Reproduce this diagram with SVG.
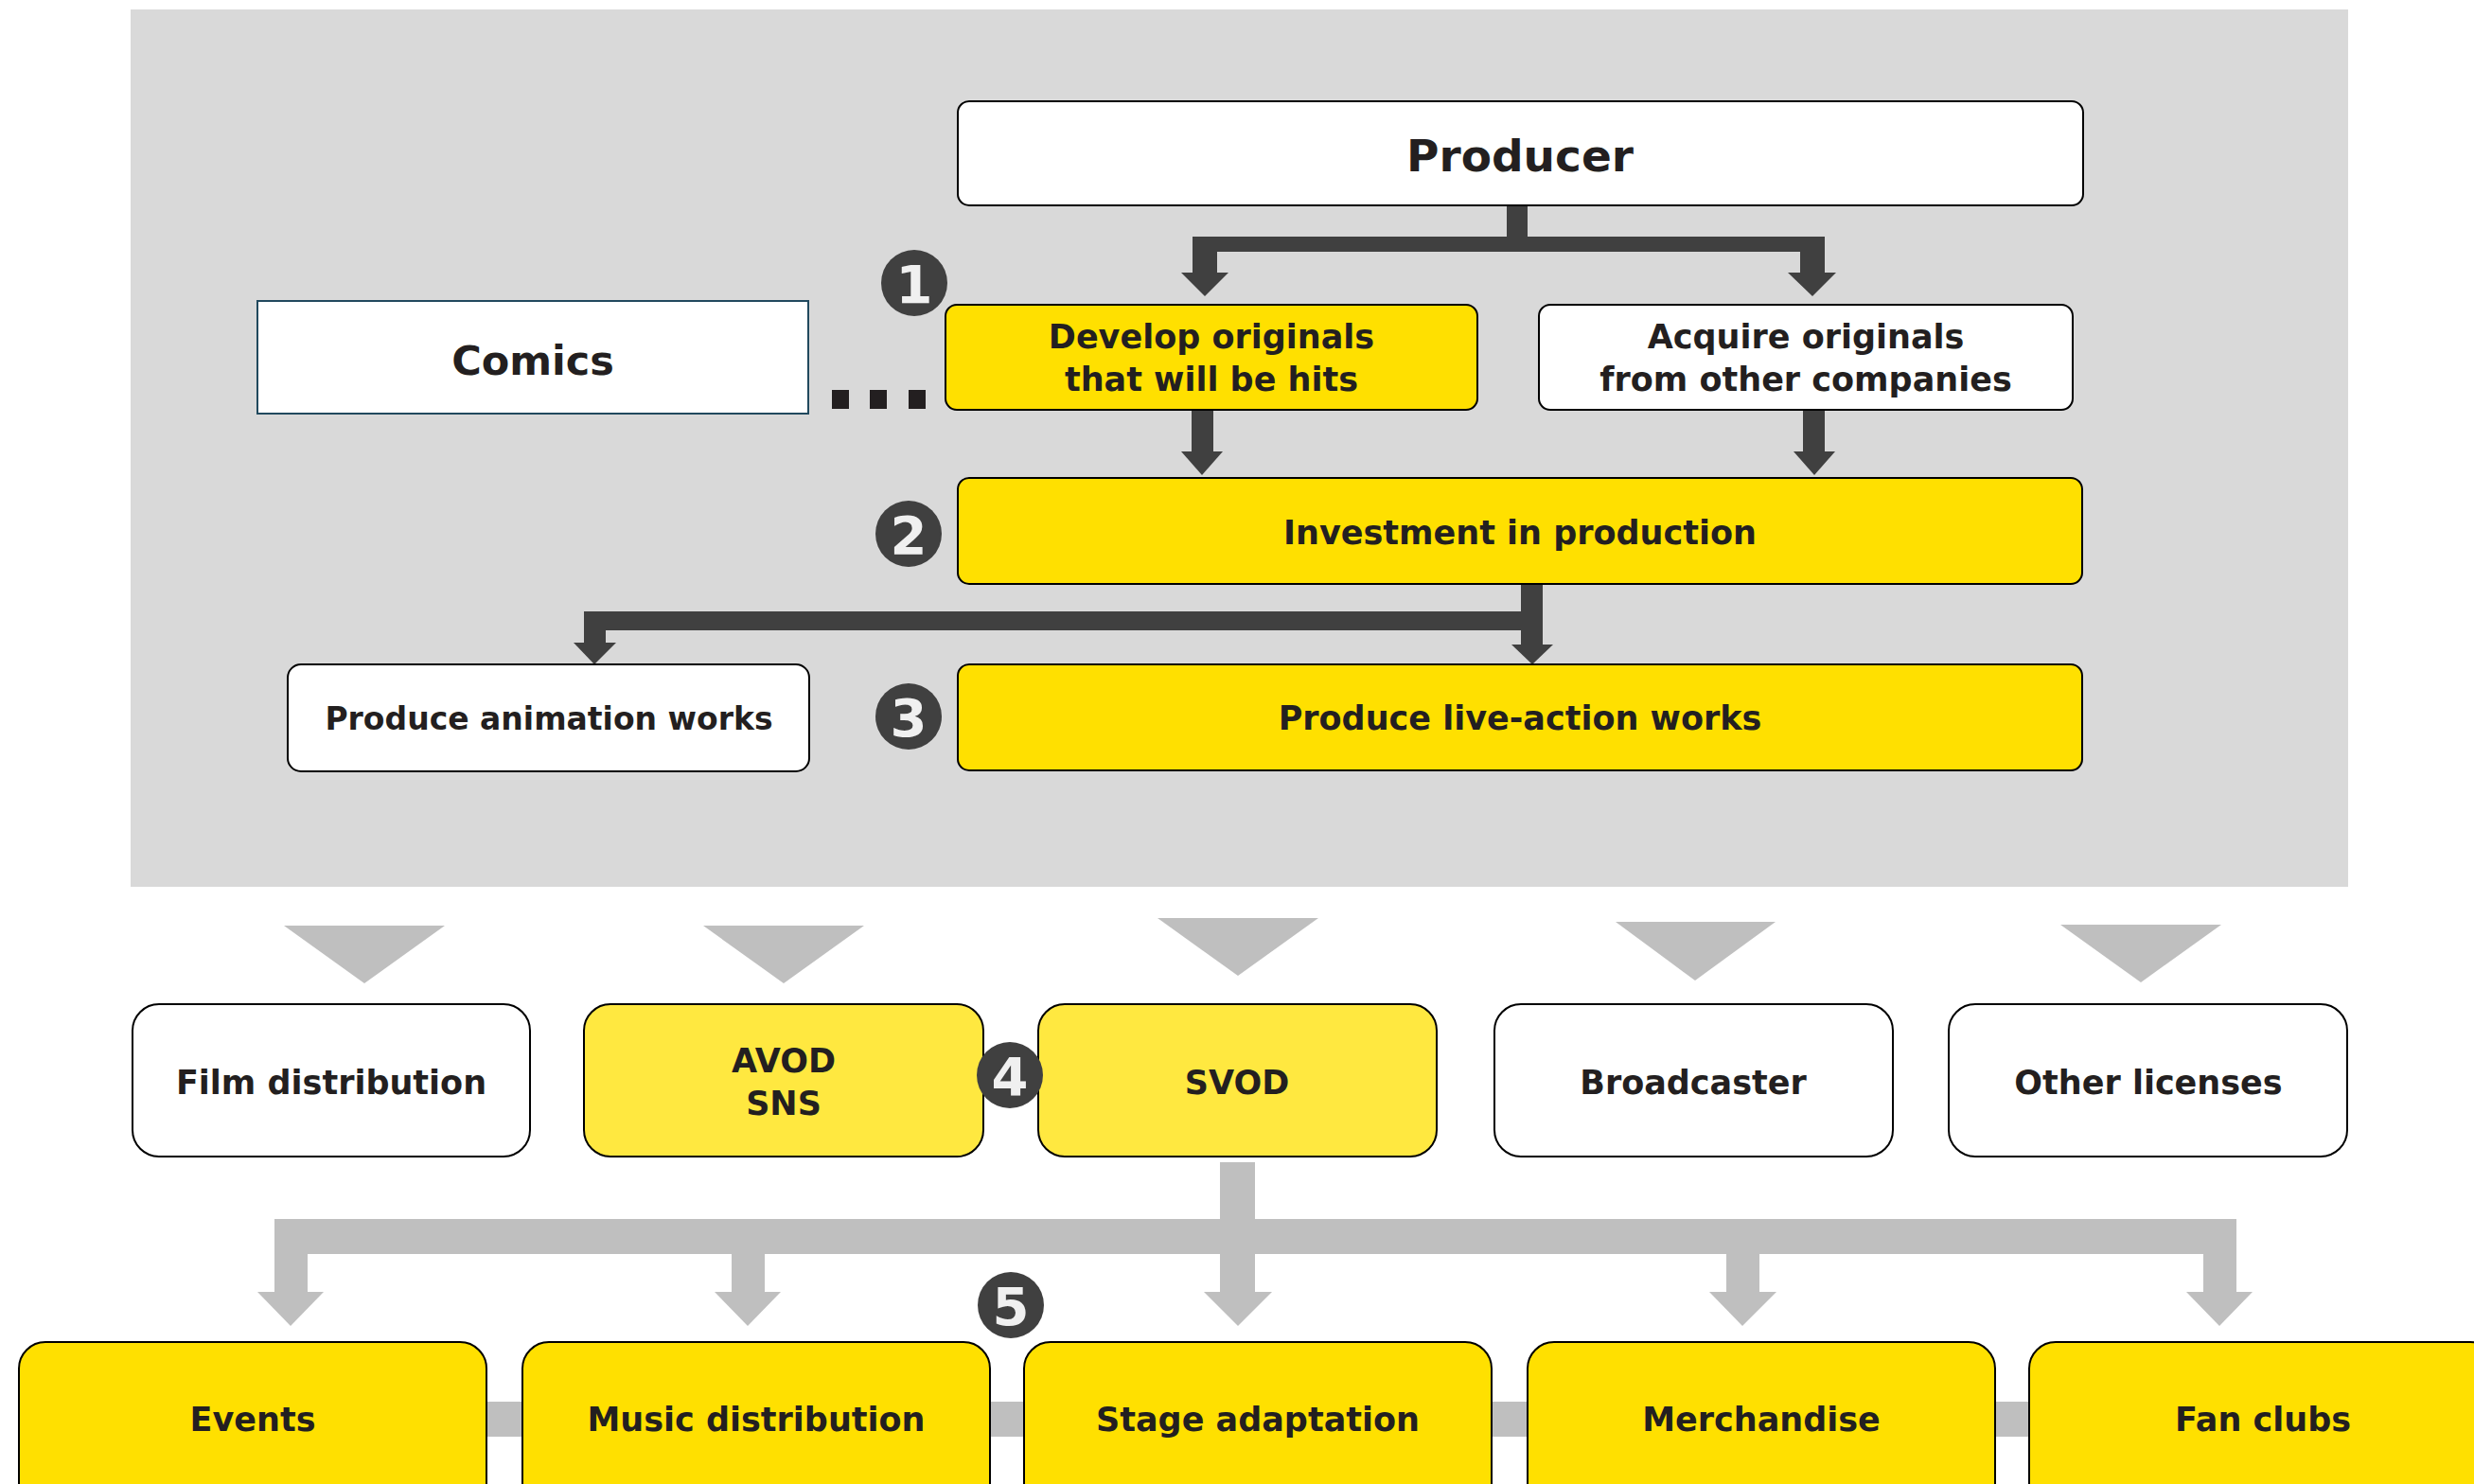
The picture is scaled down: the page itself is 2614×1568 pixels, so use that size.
<svg xmlns="http://www.w3.org/2000/svg" width="2614" height="1568" viewBox="0 0 2614 1568">
<style>
text{font-family:"DejaVu Sans","Liberation Sans",sans-serif;font-weight:bold;fill:#231f20;text-anchor:middle}
.t35{font-size:35px}
.box{stroke:#000;stroke-width:2}
.w{fill:#fff}
.y{fill:#ffe000}
.ly{fill:#ffe840}
.dk{fill:#404040}
.lg{fill:#bfbfbf}
.badge circle{fill:#404040}
.badge text{fill:#f0f0f0;font-size:56px}
</style>
<rect x="0" y="0" width="2614" height="1568" fill="#fff"/>
<rect x="138" y="10" width="2343" height="927" fill="#d9d9d9"/>

<g id="connectors">
  <!-- Producer split -->
  <rect class="dk" x="1592" y="217" width="22" height="40"/>
  <rect class="dk" x="1260" y="250" width="668" height="16"/>
  <rect class="dk" x="1260" y="250" width="26" height="39"/>
  <polygon class="dk" points="1248,288 1298,288 1273,313"/>
  <rect class="dk" x="1902" y="250" width="26" height="39"/>
  <polygon class="dk" points="1889,288 1940,288 1915,313"/>
  <!-- to Investment -->
  <rect class="dk" x="1259" y="433" width="23" height="45"/>
  <polygon class="dk" points="1248,477 1292,477 1270,502"/>
  <rect class="dk" x="1905" y="433" width="23" height="45"/>
  <polygon class="dk" points="1895,477 1939,477 1917,502"/>
  <!-- Investment split -->
  <rect class="dk" x="1607" y="617" width="23" height="65"/>
  <polygon class="dk" points="1597,681 1641,681 1619,702"/>
  <rect class="dk" x="617" y="646" width="1013" height="20"/>
  <rect class="dk" x="617" y="646" width="23" height="34"/>
  <polygon class="dk" points="606,679 651,679 628,702"/>
  <!-- gray down triangles -->
  <polygon class="lg" points="300,978 470,978 385,1039"/>
  <polygon class="lg" points="743,978 913,978 828,1039"/>
  <polygon class="lg" points="1223,970 1393,970 1308,1031"/>
  <polygon class="lg" points="1707,974 1876,974 1791,1036"/>
  <polygon class="lg" points="2177,977 2347,977 2262,1038"/>
  <!-- SVOD split -->
  <rect class="lg" x="1289" y="1228" width="37" height="138"/>
  <polygon class="lg" points="1272,1365 1344,1365 1308,1401"/>
  <rect class="lg" x="290" y="1288" width="2073" height="37"/>
  <rect class="lg" x="290" y="1288" width="35" height="78"/>
  <polygon class="lg" points="272,1365 342,1365 307,1401"/>
  <rect class="lg" x="773" y="1288" width="35" height="78"/>
  <polygon class="lg" points="755,1365 825,1365 790,1401"/>
  <rect class="lg" x="1824" y="1288" width="35" height="78"/>
  <polygon class="lg" points="1806,1365 1877,1365 1841,1401"/>
  <rect class="lg" x="2328" y="1288" width="35" height="78"/>
  <polygon class="lg" points="2310,1365 2380,1365 2345,1401"/>
  <!-- bottom link bar -->
  <rect class="lg" x="500" y="1481" width="1660" height="37"/>
  <!-- Comics dots -->
  <rect x="879" y="412" width="18" height="20" fill="#231f20"/>
  <rect x="919" y="412" width="18" height="20" fill="#231f20"/>
  <rect x="960" y="412" width="18" height="20" fill="#231f20"/>
</g>

<g id="producer"><rect class="box w" x="1012" y="107" width="1189" height="110" rx="12"/><text x="1606" y="181" style="font-size:47px">Producer</text></g>
<g id="comics"><rect x="272" y="318" width="582" height="119" fill="#fff" stroke="#21495e" stroke-width="2"/><text x="563" y="396" style="font-size:43px">Comics</text></g>
<g id="develop"><rect class="box y" x="999" y="322" width="562" height="111" rx="12"/><text class="t35" x="1280" y="368">Develop originals</text><text class="t35" x="1280" y="413">that will be hits</text></g>
<g id="acquire"><rect class="box w" x="1626" y="322" width="564" height="111" rx="12"/><text class="t35" x="1908" y="368">Acquire originals</text><text class="t35" x="1908" y="413">from other companies</text></g>
<g id="investment"><rect class="box y" x="1012" y="505" width="1188" height="112" rx="12"/><text class="t35" x="1606" y="575">Investment in production</text></g>
<g id="animation"><rect class="box w" x="304" y="702" width="551" height="113" rx="14"/><text x="580" y="771" style="font-size:33px">Produce animation works</text></g>
<g id="liveaction"><rect class="box y" x="1012" y="702" width="1188" height="112" rx="12"/><text class="t35" x="1606" y="771">Produce live-action works</text></g>

<g id="film"><rect class="box w" x="140" y="1061" width="420" height="161" rx="28"/><text class="t35" x="350" y="1156">Film distribution</text></g>
<g id="avod"><rect class="box ly" x="617" y="1061" width="422" height="161" rx="28"/><text class="t35" x="828" y="1133">AVOD</text><text class="t35" x="828" y="1178">SNS</text></g>
<g id="svod"><rect class="box ly" x="1097" y="1061" width="421" height="161" rx="28"/><text class="t35" x="1307" y="1156">SVOD</text></g>
<g id="broadcaster"><rect class="box w" x="1579" y="1061" width="421" height="161" rx="28"/><text class="t35" x="1789" y="1156">Broadcaster</text></g>
<g id="other"><rect class="box w" x="2059" y="1061" width="421" height="161" rx="28"/><text class="t35" x="2270" y="1156">Other licenses</text></g>

<g id="events"><rect class="box y" x="20" y="1418" width="494" height="180" rx="28"/><text class="t35" x="267" y="1512">Events</text></g>
<g id="music"><rect class="box y" x="552" y="1418" width="494" height="180" rx="28"/><text class="t35" x="799" y="1512">Music distribution</text></g>
<g id="stage"><rect class="box y" x="1082" y="1418" width="494" height="180" rx="28"/><text class="t35" x="1329" y="1512">Stage adaptation</text></g>
<g id="merch"><rect class="box y" x="1614" y="1418" width="494" height="180" rx="28"/><text class="t35" x="1861" y="1512">Merchandise</text></g>
<g id="fanclubs"><rect class="box y" x="2144" y="1418" width="494" height="180" rx="28"/><text class="t35" x="2391" y="1512">Fan clubs</text></g>

<g id="badge1" class="badge"><circle cx="966" cy="299" r="35"/><text x="966" y="320">1</text></g>
<g id="badge2" class="badge"><circle cx="960" cy="564" r="35"/><text x="960" y="585">2</text></g>
<g id="badge3" class="badge"><circle cx="960" cy="757" r="35"/><text x="960" y="778">3</text></g>
<g id="badge4" class="badge"><circle cx="1067" cy="1136" r="35"/><text x="1067" y="1157">4</text></g>
<g id="badge5" class="badge"><circle cx="1068" cy="1379" r="35"/><text x="1068" y="1400">5</text></g>
</svg>
